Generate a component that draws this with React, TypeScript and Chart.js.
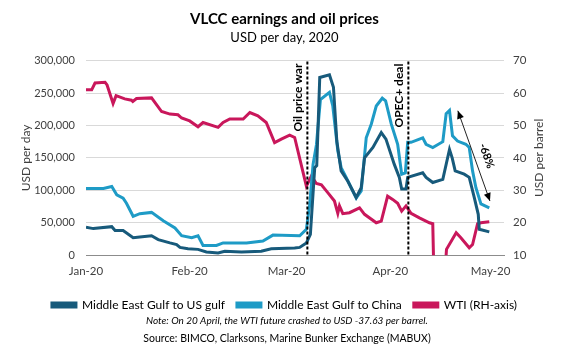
import React, { useEffect, useRef } from "react";
import { Chart, registerables } from "chart.js";

Chart.register(...registerables);

// x values are days since 1 Jan 2020
const monthTickDays = [0, 31, 60, 91, 121];
const monthTickLabels = ["Jan-20", "Feb-20", "Mar-20", "Apr-20", "May-20"];

const usGulfDays = [0, 2.2, 7.7, 8.7, 11.1, 14.1, 16.1, 19.6, 21.6, 25.1, 27.1, 28.1, 30.5, 33.5, 36.0, 39.5, 41.5, 46.5, 52.4, 55.4, 62.4, 63.9, 65.9, 67.1, 68.4, 69.0, 69.9, 72.8, 74.0, 75.0, 76.3, 78.3, 80.8, 82.3, 83.3, 85.8, 88.3, 89.7, 92.2, 93.7, 94.4, 95.7, 96.2, 100.7, 101.7, 103.7, 106.7, 108.7, 109.5, 110.4, 113.1, 114.6, 116.1, 117.3, 117.6, 120.6];
const usGulfValues = [43000, 41000, 44000, 38000, 38000, 27000, 28000, 30000, 24000, 19000, 16500, 12000, 10000, 9000, 5000, 3500, 6000, 5000, 6000, 10000, 11000, 12000, 19000, 32000, 135000, 138000, 274000, 278000, 259000, 176000, 130000, 114000, 89000, 104000, 150000, 166000, 189000, 179000, 140000, 120000, 102000, 102000, 120000, 127000, 120000, 112000, 117000, 163000, 150000, 130000, 125000, 120000, 89000, 63000, 40000, 36000];

const chinaDays = [0, 5.2, 7.7, 9.2, 11.1, 12.1, 14.1, 16.1, 19.6, 23.1, 26.6, 28.6, 31.6, 33.5, 35.0, 39.0, 41.0, 48.0, 52.9, 55.9, 63.9, 65.9, 66.9, 67.9, 68.9, 70.1, 72.8, 73.8, 75.3, 76.3, 77.8, 79.3, 80.8, 82.3, 83.8, 85.3, 86.8, 88.6, 89.6, 91.3, 93.2, 94.4, 95.5, 96.2, 97.2, 100.7, 101.7, 103.7, 106.7, 107.7, 108.7, 109.6, 111.1, 113.6, 114.6, 115.6, 116.6, 118.1, 120.6];
const chinaValues = [103000, 103000, 106000, 93000, 88000, 80000, 60000, 64000, 66000, 53000, 42000, 30000, 27000, 30000, 15000, 15000, 19000, 19000, 22000, 31000, 30000, 40000, 78000, 140000, 170000, 240000, 251000, 230000, 161000, 135000, 120000, 104000, 88000, 99000, 181000, 202000, 230000, 242000, 238000, 202000, 171000, 125000, 127000, 174000, 174000, 181000, 171000, 166000, 175000, 218000, 223000, 184000, 176000, 171000, 166000, 130000, 104000, 79000, 73000];

const wtiDays = [0, 1.7, 2.7, 5.7, 6.3, 8.1, 9.0, 11.6, 13.6, 14.0, 15.1, 19.6, 22.6, 25.1, 27.5, 28.6, 31.0, 33.5, 35.0, 39.5, 41.0, 43.0, 47.0, 49.0, 51.4, 53.9, 56.4, 58.4, 60.9, 62.4, 65.9, 67.4, 68.9, 70.4, 72.3, 74.3, 75.3, 75.8, 76.8, 78.8, 81.8, 83.3, 86.8, 88.3, 90.2, 91.7, 93.2, 94.4, 95.7, 97.2, 99.7, 102.7, 103.7, 104.9, 107.8, 110.7, 112.1, 114.6, 115.6, 117.1, 118.1, 120.6];
const wtiValues = [61, 61, 63.1, 63.3, 62.5, 56.8, 59.2, 58.2, 57.8, 57.4, 58.3, 58.5, 54.3, 53.5, 53.3, 52.3, 51.4, 49.6, 50.9, 49.4, 50.9, 52, 52, 54, 53, 50.9, 44.7, 45.8, 47, 46.3, 31.3, 34.4, 32.1, 31.7, 29.3, 26.7, 22.9, 25.2, 22.8, 23.1, 24.6, 22.6, 20, 20.5, 28.2, 27.2, 26, 23.6, 25.2, 22.9, 21.5, 20, 19.7, -37.63, 11.8, 16.9, 15.4, 12.3, 13.3, 19.7, 20, 20.3];

const eventDays = [66.2, 96.4];
const eventLabels = ["Oil price war", "OPEC+ deal"];
const arrowFrom = { x: 111.2, y: 222700 };
const arrowTo = { x: 120.8, y: 83500 };
const arrowLabel = "-68%";
const arrowLabelAt = { x: 119.8, y: 153000 };

const titleText = "VLCC earnings and oil prices";
const subtitleText = "USD per day, 2020";
const noteText = "Note: On 20 April, the WTI future crashed to USD -37.63 per barrel.";
const sourceText = "Source: BIMCO, Clarksons, Marine Bunker Exchange (MABUX)";

const FONT = "Lato";
const COLORS = { us: "#175A7B", china: "#1E9BC6", wti: "#C9175B" };

function pts(xs: number[], ys: number[]) {
  return xs.map((x, i) => ({ x, y: ys[i] }));
}

const annotationPlugin = {
  id: "annot",
  afterDatasetsDraw(chart: any) {
    const { ctx, chartArea, scales } = chart;
    const x = scales.x;
    const y = scales.y;
    ctx.save();
    eventDays.forEach((d, i) => {
      const px = x.getPixelForValue(d);
      ctx.beginPath();
      ctx.setLineDash([3, 2]);
      ctx.lineWidth = 2;
      ctx.strokeStyle = "#000";
      ctx.moveTo(px, chartArea.top + 1);
      ctx.lineTo(px, chartArea.bottom);
      ctx.stroke();
      ctx.setLineDash([]);
      ctx.save();
      ctx.translate(px - 9, chartArea.top + 3);
      ctx.rotate(-Math.PI / 2);
      ctx.font = `bold 12px ${FONT}`;
      ctx.fillStyle = "#000";
      ctx.textAlign = "right";
      ctx.textBaseline = "middle";
      ctx.fillText(eventLabels[i], 0, 0);
      ctx.restore();
    });
    const x1 = x.getPixelForValue(arrowFrom.x), y1 = y.getPixelForValue(arrowFrom.y);
    const x2 = x.getPixelForValue(arrowTo.x), y2 = y.getPixelForValue(arrowTo.y);
    ctx.beginPath();
    ctx.strokeStyle = "#222";
    ctx.lineWidth = 1;
    ctx.moveTo(x1, y1);
    ctx.lineTo(x2, y2);
    ctx.stroke();
    const head = (tx: number, ty: number, fx: number, fy: number) => {
      const a = Math.atan2(ty - fy, tx - fx);
      const L = 8, W = 3.5;
      ctx.beginPath();
      ctx.moveTo(tx, ty);
      ctx.lineTo(tx - L * Math.cos(a) + W * Math.sin(a), ty - L * Math.sin(a) - W * Math.cos(a));
      ctx.lineTo(tx - L * Math.cos(a) - W * Math.sin(a), ty - L * Math.sin(a) + W * Math.cos(a));
      ctx.closePath();
      ctx.fillStyle = "#000";
      ctx.fill();
    };
    head(x1, y1, x2, y2);
    head(x2, y2, x1, y1);
    const tx = x.getPixelForValue(arrowLabelAt.x), ty = y.getPixelForValue(arrowLabelAt.y);
    ctx.save();
    ctx.translate(tx, ty);
    ctx.rotate(Math.atan2(y2 - y1, x2 - x1));
    ctx.font = `bold 11px ${FONT}`;
    ctx.fillStyle = "#000";
    ctx.textAlign = "center";
    ctx.textBaseline = "middle";
    ctx.fillText(arrowLabel, 0, 0);
    ctx.restore();
    ctx.restore();
  },
  afterDraw(chart: any) {
    const { ctx, chartArea } = chart;
    ctx.save();
    ctx.translate(539, (chartArea.top + chartArea.bottom) / 2);
    ctx.rotate(-Math.PI / 2);
    ctx.font = `12px ${FONT}`;
    ctx.fillStyle = "#404040";
    ctx.textAlign = "center";
    ctx.textBaseline = "middle";
    ctx.fillText("USD per barrel", 0, 0);
    ctx.restore();
    ctx.save();
    ctx.textAlign = "center";
    ctx.textBaseline = "middle";
    ctx.fillStyle = "#000";
    ctx.font = `italic 10px ${FONT}`;
    ctx.fillText(noteText, 287, 321);
    ctx.font = `10.5px ${FONT}`;
    ctx.fillText(sourceText, 287, 339);
    ctx.restore();
  },
};

export default function App() {
  const ref = useRef<HTMLCanvasElement | null>(null);
  useEffect(() => {
    if (!ref.current) return;
    const chart = new Chart(ref.current, {
      type: "line",
      data: {
        datasets: [
          {
            label: "Middle East Gulf to US gulf",
            data: pts(usGulfDays, usGulfValues),
            borderColor: COLORS.us,
            backgroundColor: COLORS.us,
            borderWidth: 3,
            pointRadius: 0,
            yAxisID: "y",
          },
          {
            label: "Middle East Gulf to China",
            data: pts(chinaDays, chinaValues),
            borderColor: COLORS.china,
            backgroundColor: COLORS.china,
            borderWidth: 3,
            pointRadius: 0,
            yAxisID: "y",
          },
          {
            label: "WTI (RH-axis)",
            data: pts(wtiDays, wtiValues),
            borderColor: COLORS.wti,
            backgroundColor: COLORS.wti,
            borderWidth: 3,
            pointRadius: 0,
            yAxisID: "y1",
          },
        ],
      },
      options: {
        animation: false,
        responsive: false,
        maintainAspectRatio: false,
        events: [],
        layout: { padding: { top: 0, left: 0, right: 0, bottom: 35 } },
        plugins: {
          title: {
            display: true,
            text: titleText,
            color: "#000",
            font: { family: FONT, size: 15, weight: "bold" },
            padding: { top: 10, bottom: 0 },
          },
          subtitle: {
            display: true,
            text: subtitleText,
            color: "#000",
            font: { family: FONT, size: 13 },
            padding: { top: 2, bottom: 15 },
          },
          legend: {
            position: "bottom",
            labels: {
              boxWidth: 24,
              boxHeight: 4,
              color: "#000",
              font: { family: FONT, size: 12 },
              padding: 12,
            },
          },
          tooltip: { enabled: false },
        },
        scales: {
          x: {
            type: "linear",
            min: 0,
            max: 125,
            afterBuildTicks: (scale: any) => {
              scale.ticks = monthTickDays.map((v) => ({ value: v }));
            },
            ticks: {
              autoSkip: false,
              maxRotation: 0,
              padding: 9,
              color: "#404040",
              font: { family: FONT, size: 11.5 },
              callback: (_v: any, i: number) => monthTickLabels[i],
            },
            grid: { display: false, drawTicks: false },
            border: { display: true, color: "#8c8c8c", width: 1 },
          },
          y: {
            position: "left",
            min: 0,
            max: 300000,
            afterFit: (scale: any) => {
              scale.width = 86;
            },
            ticks: {
              stepSize: 50000,
              padding: 11,
              color: "#404040",
              font: { family: FONT, size: 11 },
              callback: (v: any) => Number(v).toLocaleString("en-US"),
            },
            grid: { color: "#d9d9d9", drawTicks: false },
            border: { display: false },
            title: {
              display: true,
              text: "USD per day",
              color: "#404040",
              font: { family: FONT, size: 12 },
              padding: { top: 19, bottom: 0 },
            },
          },
          y1: {
            position: "right",
            min: 10,
            max: 70,
            afterFit: (scale: any) => {
              scale.width = 65;
            },
            ticks: {
              stepSize: 10,
              padding: 9,
              color: "#404040",
              font: { family: FONT, size: 11.5 },
            },
            grid: { display: false, drawTicks: false },
            border: { display: false },
          },
        },
      },
      plugins: [annotationPlugin],
    } as any);
    return () => chart.destroy();
  }, []);
  return (
    <div style={{ position: "fixed", left: 0, top: 0, width: 569, height: 356, background: "#fff" }}>
      <canvas ref={ref} width={569} height={356} style={{ width: 569, height: 356, display: "block" }} />
    </div>
  );
}
